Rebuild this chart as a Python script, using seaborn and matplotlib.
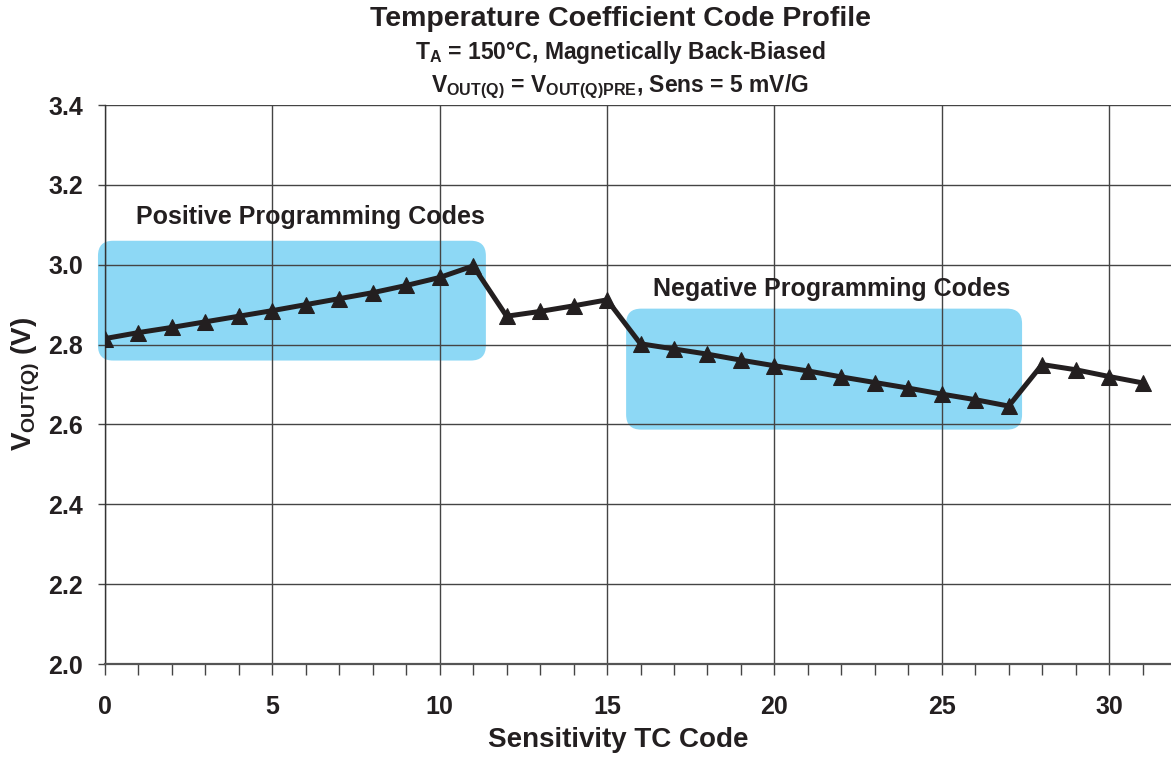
import numpy as np
import matplotlib
matplotlib.use("Agg")
import matplotlib.pyplot as plt
import seaborn as sns
from matplotlib.patches import FancyBboxPatch
from matplotlib.ticker import MultipleLocator

# Data
codes = list(range(32))
vout = [2.815, 2.830, 2.843, 2.857, 2.871, 2.885, 2.900, 2.915, 2.930, 2.948,
        2.968, 2.997, 2.871, 2.883, 2.897, 2.912, 2.802, 2.789, 2.776, 2.761,
        2.747, 2.734, 2.719, 2.705, 2.691, 2.676, 2.662, 2.646, 2.750, 2.737,
        2.720, 2.704]
x_ticks = [0, 5, 10, 15, 20, 25, 30]
y_ticks = [2.0, 2.2, 2.4, 2.6, 2.8, 3.0, 3.2, 3.4]

sns.set_style("white")
plt.rcParams['font.family'] = ['Liberation Sans', 'DejaVu Sans']
plt.rcParams['mathtext.fontset'] = 'custom'
plt.rcParams['mathtext.rm'] = 'Liberation Sans:bold'
plt.rcParams['mathtext.bf'] = 'Liberation Sans:bold'
plt.rcParams['mathtext.it'] = 'Liberation Sans:bold'

ink = "#231f20"
box_color = "#8dd8f5"

fig = plt.figure(figsize=(11.71, 7.59), dpi=100)
ax = fig.add_axes([105 / 1171, 1 - 664 / 759, 1 - 105 / 1171, (664 - 105) / 759])

# highlighted regions (rounded boxes)
xpx, ypx = 33.47, 400.0
r = 15
for x0, x1, y0, y1 in [(-0.21, 11.38, 2.76, 3.06), (15.57, 27.4, 2.587, 2.89)]:
    rx = r / xpx
    box = FancyBboxPatch((x0, y0), x1 - x0, y1 - y0,
                         boxstyle=f"round,pad=0,rounding_size={rx}",
                         mutation_aspect=(r / ypx) / rx,
                         facecolor=box_color, edgecolor="none", zorder=0.5,
                         clip_on=False)
    ax.add_patch(box)

sns.lineplot(x=codes, y=vout, ax=ax, color=ink, linewidth=3.6, marker="^",
             markersize=12, markeredgecolor=ink, markerfacecolor=ink, zorder=3)

ax.set_xlim(0, 31.85)
ax.set_ylim(2.0, 3.4)
ax.set_xticks(x_ticks)
ax.set_yticks(y_ticks)
ax.set_yticklabels([f"{v:.1f}" for v in y_ticks])
ax.xaxis.set_minor_locator(MultipleLocator(1))
ax.grid(True, which="major", color="#444444", linewidth=1.0, zorder=1)
ax.set_axisbelow(True)

for s in ["right", "top"]:
    ax.spines[s].set_visible(False)
ax.spines["left"].set_color("#333333")
ax.spines["left"].set_linewidth(1.0)
ax.spines["bottom"].set_color("#555555")
ax.spines["bottom"].set_linewidth(1.6)

ax.tick_params(axis="x", which="both", direction="out", length=8, width=1,
               color="#444444", labelsize=18, pad=14, bottom=True)
ax.tick_params(axis="y", which="major", direction="out", length=5, width=1,
               color="#444444", labelsize=18, pad=11, left=True)
for lab in ax.get_xticklabels() + ax.get_yticklabels():
    lab.set_fontweight("bold")
    lab.set_color(ink)

ax.set_xlabel("Sensitivity TC Code", fontsize=20, fontweight="bold", color=ink,
              va="center")
ax.xaxis.set_label_coords((618 - 105) / (1171 - 105), -(740 - 664) / (664 - 105))
ax.set_ylabel(r"$\mathregular{V_{OUT(Q)}}$ (V)", fontsize=20, fontweight="bold",
              color=ink, va="center")
ax.yaxis.set_label_coords(-(105 - 26) / (1171 - 105), 0.5)

ax.text(6.15, 3.12, "Positive Programming Codes", ha="center", va="center",
        fontsize=18, fontweight="bold", color=ink)
ax.text(21.7, 2.94, "Negative Programming Codes", ha="center", va="center",
        fontsize=18, fontweight="bold", color=ink)

cx = 620 / 1171
fig.text(cx, 1 - 19 / 759, "Temperature Coefficient Code Profile", ha="center",
         va="center", fontsize=20.5, fontweight="bold", color=ink)
fig.text(cx, 1 - 52 / 759, r"$\mathregular{T_A}$ = 150°C, Magnetically Back-Biased",
         ha="center", va="center", fontsize=16.5, fontweight="bold", color=ink)
fig.text(cx, 1 - 87 / 759,
         r"$\mathregular{V_{OUT(Q)}}$ = $\mathregular{V_{OUT(Q)PRE}}$, Sens = 5 mV/G",
         ha="center", va="center", fontsize=16.5, fontweight="bold", color=ink)

fig.savefig("out.png", dpi=100)
